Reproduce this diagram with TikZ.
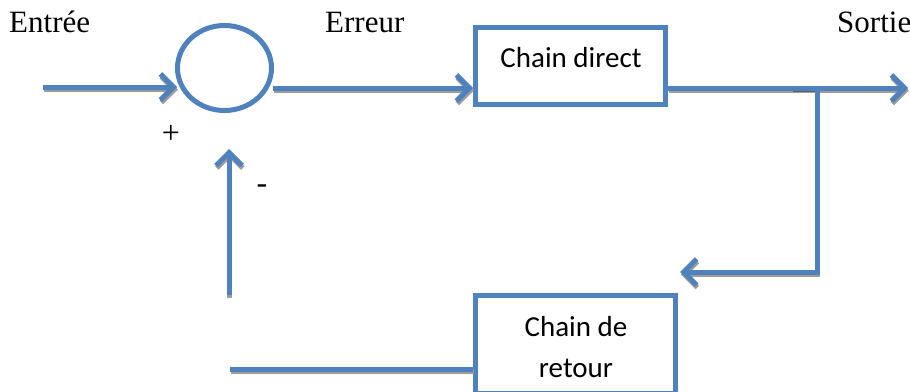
\documentclass[tikz,border=0pt]{standalone}
\usepackage{fontspec}
\setmainfont{Liberation Serif}
\newfontfamily\boxfont{Carlito}
\usetikzlibrary{arrows.meta,shapes.geometric}
\definecolor{flowblue}{HTML}{4F81BD}
\definecolor{shadowgray}{HTML}{9C9C9C}
\definecolor{jointgray}{HTML}{5F5F5F}
\begin{document}
\begin{tikzpicture}[x=1pt,y=-1pt,
  flow/.style={draw=flowblue,line width=5pt},
  shade/.style={draw=shadowgray,line width=5pt},
  tip/.style={-{Straight Barb[length=13pt,width=26pt]}},
  block/.style={draw=flowblue,line width=5pt,rectangle,inner sep=0pt},
  serif/.style={font=\fontsize{31}{31}\selectfont,inner sep=0pt},
  sans/.style={font=\boxfont\fontsize{29}{29}\selectfont,inner sep=0pt},
  sign/.style={font=\fontsize{32}{32}\selectfont,inner sep=0pt}]
\clip (0,0) rectangle (910,391);
\fill[white] (0,0) rectangle (910,391);

% labels
\node[serif,anchor=base west] (in) at (9,32) {Entrée};
\node[serif,anchor=base west] (err) at (325,32) {Erreur};
\node[serif,anchor=base west] (out) at (837,32) {Sortie};
\node[sign] (plus) at (171,134) {+};
\node[sign] (minus) at (262,189) {-};

% summing junction and blocks
\node[draw=flowblue,line width=5pt,ellipse,minimum width=94pt,minimum height=85pt,inner sep=0pt] (sum) at (224.5,68) {};
\node[block,minimum width=190pt,minimum height=77pt] (direct) at (570.5,66) {};
\node[block,minimum width=200pt,minimum height=98pt] (retour) at (575.5,344.5) {};
\node[sans,anchor=base] (dtext) at (571,67) {Chain direct};
\node[sans,anchor=base] (rtext1) at (576,336) {Chain de};
\node[sans,anchor=base] (rtext2) at (576,377) {retour};

% connector end points
\coordinate (inA) at (43,87);
\coordinate (inB) at (177,87);
\coordinate (errA) at (273,88);
\coordinate (errB) at (direct.west |- errA);
\coordinate (outA) at (direct.east |- errA);
\coordinate (outB) at (908,88);
\coordinate (branch) at (817,88);
\coordinate (corner) at (817,272);
\coordinate (fbEnd) at (680,272);
\coordinate (rA) at (230,369);
\coordinate (rB) at (retour.west |- rA);
\coordinate (upA) at (229,295);
\coordinate (upB) at (229,149);

% drop shadows of the connectors
\begin{scope}[transform canvas={shift={(0.8pt,-2.5pt)}}]
  \draw[shade,tip] (inA) -- (inB);
  \draw[shade,tip] (errA) -- (errB);
  \draw[shade,tip] (outA) -- (outB);
  \draw[shade,tip] (branch) -- (corner) -- (fbEnd);
  \draw[shade] (rB) -- (rA);
  \draw[shade,tip] (upA) -- (upB);
\end{scope}
\draw[jointgray,line width=3pt] (793,90.5) -- (816,90.5);

% connectors
\draw[flow,tip] (inA) -- (inB);
\draw[flow,tip] (errA) -- (errB);
\draw[flow,tip] (outA) -- (outB);
\draw[flow,tip] (branch) -- (corner) -- (fbEnd);
\draw[flow] (rB) -- (rA);
\draw[flow,tip] (upA) -- (upB);
\end{tikzpicture}
\end{document}
